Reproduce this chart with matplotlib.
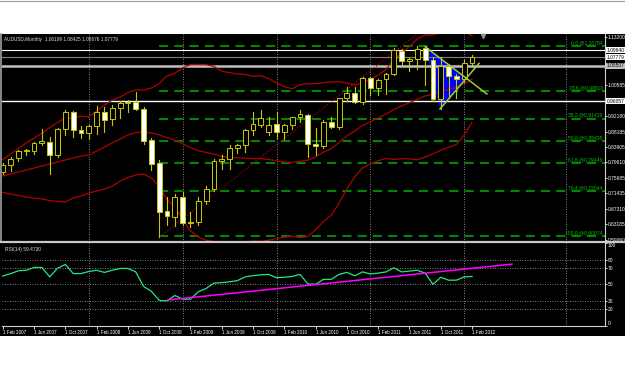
import matplotlib
matplotlib.use('Agg')
import matplotlib.pyplot as plt
from matplotlib.patches import Rectangle, Polygon
from matplotlib.lines import Line2D

plt.rcParams['font.family'] = ['Liberation Sans', 'DejaVu Sans']

## monthly AUDUSD candles, Feb 2007 .. Feb 2012
Opens = [0.772, 0.789, 0.808, 0.827, 0.828, 0.849, 0.852, 0.817, 0.887, 0.931,
         0.884, 0.876, 0.895, 0.931, 0.913, 0.942, 0.955, 0.958, 0.940, 0.857,
         0.795, 0.667, 0.652, 0.704, 0.635, 0.638, 0.695, 0.726, 0.801, 0.806,
         0.835, 0.843, 0.884, 0.897, 0.879, 0.899, 0.879, 0.897, 0.918, 0.924,
         0.846, 0.841, 0.905, 0.891, 0.969, 0.983, 0.959, 1.023, 0.996, 1.020,
         1.033, 1.095, 1.067, 1.073, 1.103, 1.070, 0.966, 1.055, 1.029, 1.020, 1.06199]
Highs = [0.795, 0.812, 0.831, 0.834, 0.852, 0.886, 0.866, 0.890, 0.937, 0.935,
         0.893, 0.897, 0.947, 0.946, 0.950, 0.962, 0.964, 0.985, 0.944, 0.862,
         0.803, 0.706, 0.713, 0.719, 0.664, 0.705, 0.735, 0.807, 0.817, 0.843,
         0.846, 0.886, 0.933, 0.936, 0.917, 0.933, 0.900, 0.919, 0.936, 0.926,
         0.889, 0.910, 0.918, 0.970, 0.998, 0.998, 1.025, 1.026, 1.020, 1.036,
         1.102, 1.101, 1.075, 1.108, 1.108, 1.078, 1.078, 1.060, 1.034, 1.070, 1.08425]
Lows = [0.766, 0.775, 0.801, 0.816, 0.819, 0.843, 0.766, 0.812, 0.870, 0.865,
        0.862, 0.860, 0.874, 0.877, 0.896, 0.915, 0.931, 0.936, 0.846, 0.776,
        0.599, 0.630, 0.627, 0.630, 0.625, 0.630, 0.685, 0.722, 0.780, 0.780,
        0.823, 0.826, 0.870, 0.892, 0.870, 0.862, 0.860, 0.887, 0.905, 0.812,
        0.818, 0.836, 0.888, 0.886, 0.960, 0.955, 0.952, 0.978, 0.978, 0.980,
        1.030, 1.054, 1.040, 1.046, 1.005, 0.960, 0.940, 0.970, 0.968, 1.012, 1.05676]
Closes = [0.789, 0.807, 0.828, 0.829, 0.849, 0.855, 0.818, 0.887, 0.931, 0.884,
          0.876, 0.895, 0.931, 0.911, 0.942, 0.955, 0.958, 0.940, 0.855, 0.793,
          0.665, 0.654, 0.704, 0.635, 0.638, 0.695, 0.726, 0.800, 0.806, 0.835,
          0.843, 0.884, 0.900, 0.916, 0.897, 0.879, 0.897, 0.917, 0.926, 0.846,
          0.841, 0.905, 0.891, 0.969, 0.983, 0.959, 1.023, 0.996, 1.017, 1.033,
          1.097, 1.067, 1.073, 1.100, 1.070, 0.966, 1.055, 1.029, 1.020, 1.062, 1.07779]

## Bollinger bands (20, 2)
BB_Upper = [0.8047, 0.8195, 0.8342, 0.8489, 0.8621, 0.8754, 0.8904, 0.9037, 0.9157, 0.9156,
            0.9209, 0.9184, 0.9343, 0.9504, 0.9639, 0.9718, 0.9839, 0.9905, 0.9905, 0.9958,
            1.0079, 1.0282, 1.0350, 1.0497, 1.0586, 1.0588, 1.0584, 1.0532, 1.0406, 1.0367,
            1.0329, 1.0323, 1.0270, 1.0284, 1.0208, 1.0088, 0.9989, 0.9940, 1.0047, 1.0076,
            1.0068, 1.0099, 1.0119, 1.0128, 1.0090, 1.0032, 1.0095, 1.0183, 1.0306, 1.0449,
            1.0726, 1.0890, 1.1070, 1.1274, 1.1377, 1.1374, 1.1439, 1.1471, 1.1492, 1.1456, 1.1355]
BB_Middle = [0.7607, 0.7661, 0.7714, 0.7767, 0.7821, 0.7874, 0.7928, 0.7981, 0.8035, 0.8088,
             0.8141, 0.8168, 0.8275, 0.8382, 0.8489, 0.8596, 0.8703, 0.8769, 0.8783, 0.8756,
             0.8705, 0.8628, 0.8566, 0.8469, 0.8364, 0.8284, 0.8238, 0.8194, 0.8132, 0.8107,
             0.8091, 0.8085, 0.8070, 0.8072, 0.8050, 0.8012, 0.7981, 0.7970, 0.8005, 0.8032,
             0.8120, 0.8245, 0.8339, 0.8506, 0.8678, 0.8810, 0.8959, 0.9057, 0.9162, 0.9261,
             0.9388, 0.9480, 0.9566, 0.9658, 0.9745, 0.9788, 0.9867, 0.9923, 0.9970, 1.0078, 1.0197]
BB_Lower = [0.7167, 0.7127, 0.7087, 0.7046, 0.7020, 0.6993, 0.6953, 0.6926, 0.6913, 0.7020,
            0.7073, 0.7153, 0.7207, 0.7260, 0.7340, 0.7474, 0.7567, 0.7634, 0.7661, 0.7554,
            0.7331, 0.6974, 0.6782, 0.6441, 0.6142, 0.5980, 0.5892, 0.5856, 0.5858, 0.5847,
            0.5853, 0.5847, 0.5870, 0.5860, 0.5892, 0.5936, 0.5973, 0.6000, 0.5963, 0.5988,
            0.6172, 0.6391, 0.6559, 0.6884, 0.7266, 0.7588, 0.7823, 0.7931, 0.8018, 0.8073,
            0.8050, 0.8070, 0.8062, 0.8042, 0.8113, 0.8202, 0.8295, 0.8375, 0.8448, 0.8700, 0.9039]

## RSI(14)
RSI_Values = [60, 63, 66.3, 67, 70.4, 70.4, 59, 69.5, 74, 63,
              63, 65.5, 67, 64.4, 67, 69.2, 69.2, 65, 47.5, 41.5,
              30.5, 30, 36.5, 32, 32, 41, 45, 51.5, 52, 53,
              54.5, 59, 60.5, 61.5, 62, 58, 58.5, 59.5, 62, 50.5,
              50, 56, 56, 62, 64.4, 60.3, 65, 62.5, 63.5, 65,
              70, 65, 66, 67, 63.5, 50, 58.5, 55, 55, 59, 59.47]

## axis labels
Date_Labels = ["1 Feb 2007", "1 Jun 2007", "1 Oct 2007", "1 Feb 2008", "1 Jun 2008", "1 Oct 2008",
               "1 Feb 2009", "1 Jun 2009", "1 Oct 2009", "1 Feb 2010", "1 Jun 2010", "1 Oct 2010",
               "1 Feb 2011", "1 Jun 2011", "1 Oct 2011", "1 Feb 2012"]
Date_Index = [0, 4, 8, 12, 16, 20, 24, 28, 32, 36, 40, 44, 48, 52, 56, 60]
Price_Ticks = [1.1320, 1.00310, 0.92060, 0.87935, 0.83810, 0.79685, 0.75560, 0.71435, 0.67310, 0.63185, 0.59060]
Price_Labels = ["1.13200", "1.00585", "0.92180", "0.88185", "0.83905", "0.79610", "0.75685",
                "0.71435", "0.67310", "0.63185", "0.59060"]
RSI_Ticks = [0, 20, 30, 50, 70, 80, 100]
Grid_Index = [11, 23, 35, 47, 59, 72]

## Fibonacci retracement (Oct 2008 low -> Aug 2011 high)
Fib_Levels = ["0.0", "23.6", "38.2", "50.0", "61.8", "76.4", "100.0"]
Fib_Prices = [1.10794, 0.98818, 0.91419, 0.85435, 0.79449, 0.72044, 0.60074]

## horizontal lines: price, colour, width, label box colour
H_Lines = [(1.09640, 'white', 0.8, 'white'),
           (1.07779, '#808080', 0.8, 'white'),
           (1.05507, '#c0c0c0', 1.8, '#c0c0c0'),
           (0.96057, 'white', 1.0, 'white')]

# trendlines (month index, value)
Price_Trend = [(20.1, 0.5986), (56.0, 1.190)]
Triangle = [(54.0, 1.1061), (55.9, 0.9397), (59.2, 1.0210)]
Tri_Line1 = [(54.0, 1.1061), (61.9, 0.9797)]
Tri_Line2 = [(55.9, 0.9397), (60.9, 1.0617)]
RSI_Trend = [(21.1, 31.0), (65.1, 74.4)]

W, H = 625, 375
def fx(x): return x / W
def fy(y): return 1 - y / H

fig = plt.figure(figsize=(6.25, 3.75), dpi=100)
fig.patch.set_facecolor('white')
fig.add_artist(Rectangle((0, fy(335.5)), 1, (335.5 - 33.5) / H, transform=fig.transFigure,
                         facecolor='black', edgecolor='none', zorder=0))
fig.add_artist(Line2D([0, 1], [fy(0.5), fy(0.5)], color='#a0a0a0', lw=0.8))
fig.add_artist(Line2D([fx(1), fx(1)], [fy(34), fy(242)], color='#a0a0a0', lw=1.2))
fig.add_artist(Line2D([0, 1], [fy(242), fy(242)], color='#c8c8c8', lw=1.6, zorder=5))

X_Min, X_Max = -0.1, 77.0
yellow = '#c8c800'
red = '#b00000'
small = 3.5

## 主图
ax = fig.add_axes([fx(2), fy(242), 603 / W, 208 / H])
ax.set_facecolor('black')
ax.set_xlim(X_Min, X_Max)
ax.set_ylim(0.5845, 1.140)
for s in ['top', 'left', 'bottom']:
    ax.spines[s].set_visible(False)
ax.spines['right'].set_color('#d0d0d0')
ax.spines['right'].set_linewidth(0.8)
ax.set_xticks([])
ax.yaxis.tick_right()
ax.set_yticks(Price_Ticks)
ax.set_yticklabels(Price_Labels)
ax.tick_params(axis='y', colors='white', labelsize=small, length=1.5, width=0.6, pad=0.4)

for g in Grid_Index:
    ax.axvline(g, color='#b0b0b0', ls=(0, (1, 2)), lw=0.6, zorder=1)

# fibo
for lvl, p in zip(Fib_Levels, Fib_Prices):
    ax.plot([20, X_Max], [p, p], color='#00b000', lw=1.1, ls=(0, (6, 4)), zorder=2)
    ax.text(X_Max - 0.3, p + 0.002, "%s @%.5f" % (lvl, p), color='#00c000',
            fontsize=3.6, ha='right', va='bottom', zorder=6)

for p, col, lw, box in H_Lines:
    ax.axhline(p, color=col, lw=lw, zorder=3)
    ax.text(1.003, p, "%.5f" % p, transform=ax.get_yaxis_transform(), color='black',
            fontsize=small, ha='left', va='center', clip_on=False, zorder=7,
            bbox=dict(boxstyle='square,pad=0.1', facecolor=box, edgecolor='none'))

ax.add_patch(Polygon(Triangle, closed=True, facecolor='#0000ff', edgecolor='none', zorder=2))

idx = list(range(len(Closes)))
ax.plot(idx, BB_Upper, color=red, lw=0.9, zorder=3)
ax.plot(idx, BB_Middle, color=red, lw=0.9, zorder=3)
ax.plot(idx, BB_Lower, color=red, lw=0.9, zorder=3)
ax.plot([p[0] for p in Price_Trend], [p[1] for p in Price_Trend], color=red, lw=0.9,
        ls=(0, (1, 1.5)), zorder=3)

bw = 0.62
for i in idx:
    o, h, l, c = Opens[i], Highs[i], Lows[i], Closes[i]
    ax.plot([i, i], [l, h], color=yellow, lw=0.8, zorder=4)
    bottom = min(o, c)
    height = max(abs(c - o), 0.002)
    face = 'black' if c >= o else 'white'
    ax.add_patch(Rectangle((i - bw / 2, bottom), bw, height, facecolor=face,
                           edgecolor=yellow, lw=0.7, zorder=5))

for ln in [Tri_Line1, Tri_Line2]:
    ax.plot([p[0] for p in ln], [p[1] for p in ln], color='#9acd32', lw=1.1, zorder=6)

ax.plot([61.4], [1.1355], marker='v', color='#909090', markersize=3, clip_on=False, zorder=7)

fig.text(fx(4), fy(40), "AUDUSD,Monthly  1.06199 1.08425 1.05676 1.07779", color='#e0e0e0',
         fontsize=3.4, ha='left', va='center')

## RSI
ar = fig.add_axes([fx(2), fy(325.6), 603 / W, (325.6 - 243) / H])
ar.set_facecolor('black')
ar.set_xlim(X_Min, X_Max)
ar.set_ylim(0, 100)
for s in ['top', 'left']:
    ar.spines[s].set_visible(False)
for s in ['right', 'bottom']:
    ar.spines[s].set_color('#d0d0d0')
    ar.spines[s].set_linewidth(0.8)
ar.yaxis.tick_right()
ar.set_yticks(RSI_Ticks)
ar.set_yticklabels([str(t) for t in RSI_Ticks])
ar.tick_params(axis='y', colors='white', labelsize=small, length=1.5, width=0.6, pad=0.4)
ar.get_yticklabels()[-1].set_va('top')
ar.get_yticklabels()[0].set_va('bottom')
ar.set_xticks(Date_Index)
ar.set_xticklabels(Date_Labels)
ar.tick_params(axis='x', colors='white', labelsize=3.3, length=2.5, width=0.6, pad=0.8)
for lbl in ar.get_xticklabels():
    lbl.set_ha('left')
for lv in [20, 30, 50, 70, 80]:
    ar.axhline(lv, color='#b0b0b0', ls=(0, (1, 2)), lw=0.6)
for g in Grid_Index:
    ar.axvline(g, color='#b0b0b0', ls=(0, (1, 2)), lw=0.6)

ar.plot(idx, RSI_Values, color='#22e884', lw=0.9, zorder=3)
ar.plot([p[0] for p in RSI_Trend], [p[1] for p in RSI_Trend], color='#ff00ff', lw=1.1, zorder=3)
ar.text(0.005, 0.95, "RSI(14) 59.4730", transform=ar.transAxes, color='#e0e0e0',
        fontsize=small, ha='left', va='top')

fig.savefig('out.png', dpi=100, facecolor='white')
